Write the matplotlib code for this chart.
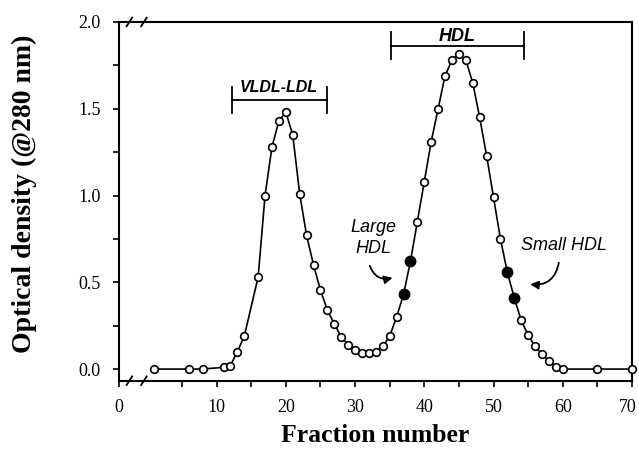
import numpy as np
import matplotlib
matplotlib.use("Agg")
import matplotlib.pyplot as plt
import matplotlib.transforms as mtransforms
from matplotlib.patches import FancyArrowPatch

# fraction number vs optical density (@280 nm)
fraction = [1, 6, 8, 11, 12, 13, 14, 16, 17, 18, 19, 20, 21, 22, 23, 24, 25,
            26, 27, 28, 29, 30, 31, 32, 33, 34, 35, 36, 37, 38, 39, 40, 41,
            42, 43, 44, 45, 46, 47, 48, 49, 50, 51, 52, 53, 54, 55, 56, 57,
            58, 59, 60, 65, 70]
density = [0.0, 0.0, 0.0, 0.01, 0.02, 0.10, 0.19, 0.53, 1.00, 1.28, 1.43,
           1.48, 1.35, 1.01, 0.77, 0.60, 0.455, 0.34, 0.26, 0.185, 0.14, 0.11,
           0.09, 0.09, 0.10, 0.13, 0.19, 0.30, 0.43, 0.62, 0.85, 1.08, 1.31,
           1.50, 1.69, 1.78, 1.815, 1.78, 1.65, 1.45, 1.23, 0.99, 0.75, 0.557,
           0.41, 0.28, 0.196, 0.13, 0.086, 0.046, 0.013, 0.0, 0.0, 0.0]

# highlighted fractions (filled markers)
large_hdl = [37, 38]
small_hdl = [52, 53]

x_tick_vals = [10, 20, 30, 40, 50, 60, 70]
y_tick_vals = [0.0, 0.5, 1.0, 1.5, 2.0]

serif = ['Liberation Serif', 'DejaVu Serif']
sans = ['Liberation Sans', 'DejaVu Sans']

fig = plt.figure(figsize=(6.39, 4.57), dpi=100)
ax = fig.add_axes([0.1862, 0.1670, 0.8028, 0.7849])

x_left = -4.1
ax.set_xlim(x_left, 70)
ax.set_ylim(-0.067, 2.0)

ax.plot(fraction, density, color='black', lw=1.2, zorder=2, clip_on=False)
ax.plot(fraction, density, 'o', ms=5.5, mfc='white', mec='black', mew=1.2,
        zorder=3, clip_on=False)

sel = [fraction.index(f) for f in large_hdl + small_hdl]
ax.plot([fraction[i] for i in sel], [density[i] for i in sel], 'o', ms=7.5,
        mfc='black', mec='black', zorder=4)

# axes styling
for s in ax.spines.values():
    s.set_linewidth(1.5)
ax.set_xticks([x_left] + x_tick_vals)
ax.set_xticklabels(['0'] + [str(v) for v in x_tick_vals])
ax.set_xticks([5, 15, 25, 35, 45, 55, 65], minor=True)
ax.set_yticks(y_tick_vals)
ax.set_yticklabels(['%.1f' % v for v in y_tick_vals])
ax.set_yticks([0.25, 0.75, 1.25, 1.75], minor=True)
ax.tick_params(which='both', direction='out', length=4, width=1.2, color='black')
ax.tick_params(axis='x', pad=9)
ax.tick_params(axis='y', pad=9)
for lab in ax.get_xticklabels() + ax.get_yticklabels():
    lab.set_family(serif)
    lab.set_fontsize(13)

# keep the last x label inside the figure edge
last = ax.get_xticklabels()[-1]
last.set_transform(last.get_transform() +
                   mtransforms.ScaledTranslation(-3 / 72, 0, fig.dpi_scale_trans))

ax.set_xlabel('Fraction number', family=serif, fontsize=18.5,
              fontweight='bold', labelpad=6)
ax.set_ylabel('Optical density (@280 nm)', family=serif, fontsize=20,
              fontweight='bold')
ax.yaxis.set_label_coords(-0.16, 0.52)

# axis break marks
trans = ax.get_xaxis_transform()
for xb in [-2.6, -0.5]:
    for yb in [0.0, 1.0]:
        ax.plot([xb - 0.4, xb + 0.4], [yb - 0.012, yb + 0.012], color='black',
                lw=1.3, transform=trans, clip_on=False)

# brackets
def bracket(x0, x1, y, h):
    ax.plot([x0, x1], [y, y], color='black', lw=1.3)
    ax.plot([x0, x0], [y - h, y + h], color='black', lw=1.3)
    ax.plot([x1, x1], [y - h, y + h], color='black', lw=1.3)

bracket(12.25, 25.9, 1.55, 0.077)
bracket(35.15, 54.4, 1.862, 0.078)

ax.text(18.9, 1.625, 'VLDL-LDL', family=sans, fontsize=11.5,
        fontweight='bold', style='italic', ha='center', va='center')
ax.text(44.7, 1.915, 'HDL', family=sans, fontsize=13,
        fontweight='bold', style='italic', ha='center', va='center')

ax.text(32.7, 0.755, 'Large\nHDL', family=sans, fontsize=13, style='italic',
        ha='center', va='center', linespacing=1.3)
ax.text(60.2, 0.712, 'Small HDL', family=sans, fontsize=13, style='italic',
        ha='center', va='center')

ax.add_patch(FancyArrowPatch((32.0, 0.61), (35.8, 0.53),
                             connectionstyle='arc3,rad=0.5',
                             arrowstyle='-|>', mutation_scale=12,
                             lw=1.3, color='black'))
ax.add_patch(FancyArrowPatch((59.5, 0.628), (54.9, 0.49),
                             connectionstyle='arc3,rad=-0.5',
                             arrowstyle='-|>', mutation_scale=12,
                             lw=1.3, color='black'))

plt.savefig('out.png', dpi=100)
